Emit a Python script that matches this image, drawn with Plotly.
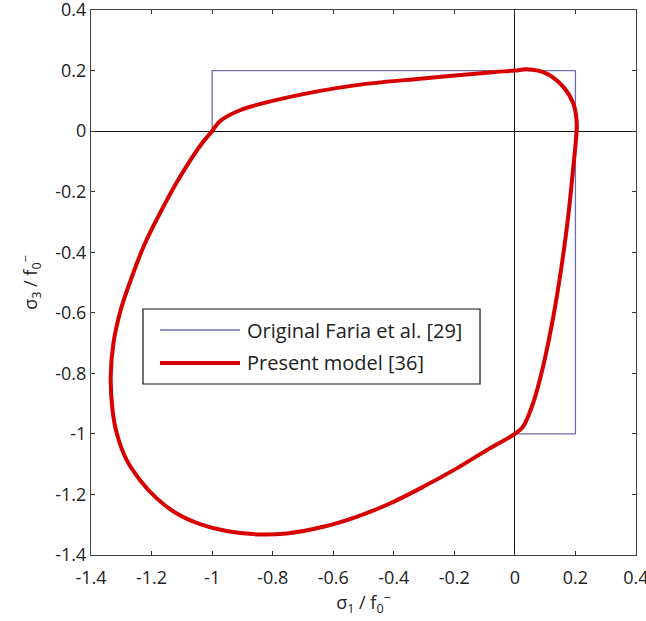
import plotly.graph_objects as go

# Original Faria et al. [29] envelope
faria_x = [-1.0, -1.0, 0.2, 0.2, 0.0]
faria_y = [0.0, 0.2, 0.2, -1.0, -1.0]

# Present model [36] envelope
model_x = [-1.0, -0.974, -0.908, -0.743, -0.523, -0.304, -0.083, 0.0, 0.039, 0.105,
           0.16, 0.193, 0.204, 0.204, 0.193, 0.176, 0.154, 0.127, 0.093, 0.060,
           0.027, 0.0, -0.083, -0.192, -0.303, -0.413, -0.523, -0.633, -0.754, -0.853,
           -0.952, -1.040, -1.117, -1.183, -1.238, -1.282, -1.315, -1.329, -1.335, -1.326,
           -1.302, -1.265, -1.222, -1.167, -1.106, -1.034, -1.0]
model_y = [0.0, 0.033, 0.069, 0.113, 0.152, 0.174, 0.194, 0.2, 0.204, 0.19,
           0.146, 0.091, 0.036, 0.0, -0.118, -0.283, -0.448, -0.613, -0.778, -0.899,
           -0.976, -1.0, -1.048, -1.114, -1.175, -1.230, -1.274, -1.307, -1.329, -1.332,
           -1.321, -1.298, -1.263, -1.213, -1.153, -1.087, -0.998, -0.921, -0.811, -0.701,
           -0.591, -0.481, -0.371, -0.261, -0.151, -0.041, 0.0]

tick_vals = [-1.4, -1.2, -1.0, -0.8, -0.6, -0.4, -0.2, 0.0, 0.2, 0.4]
tick_text = ["-1.4", "-1.2", "-1", "-0.8", "-0.6", "-0.4", "-0.2", "0", "0.2", "0.4"]

legend_names = ["Original Faria et al. [29]", "Present model [36]"]
blue = "rgb(108,108,170)"
red = "rgb(214,0,0)"
FONT = "Open Sans"

fig = go.Figure()
fig.add_trace(go.Scatter(x=faria_x, y=faria_y, mode="lines", name=legend_names[0],
                         line=dict(color=blue, width=1.3), showlegend=False))
fig.add_trace(go.Scatter(x=model_x, y=model_y, mode="lines", name=legend_names[1],
                         line=dict(color=red, width=4, shape="spline", smoothing=1.0),
                         showlegend=False))

axis_common = dict(
    tickvals=tick_vals, ticktext=tick_text, ticks="inside", ticklen=4,
    tickcolor="#333", showline=True, linecolor="#444", linewidth=1.2, mirror="ticks",
    showgrid=False, zeroline=True, zerolinecolor="#111", zerolinewidth=1,
    tickfont=dict(family=FONT, size=18, color="#222"), automargin=False,
    ticklabeloverflow="allow",
)

fig.update_xaxes(range=[-1.4001, 0.4001], ticklabelstandoff=6,
                 title=dict(text="σ<sub>1</sub> / f<sub>0</sub><sup>−</sup>",
                            font=dict(family=FONT, size=18, color="#222"), standoff=6),
                 **axis_common)
fig.update_yaxes(range=[-1.4001, 0.4001], ticklabelstandoff=0,
                 title=dict(text="σ<sub>3</sub> / f<sub>0</sub><sup>−</sup>",
                            font=dict(family=FONT, size=18, color="#222"), standoff=12),
                 **axis_common)

# custom legend box (paper coords)
fig.add_shape(type="rect", xref="paper", yref="paper", x0=0.0954, x1=0.7138, y0=0.3138, y1=0.4514,
              line=dict(color="#111", width=1.2), fillcolor="white", layer="above")
fig.add_shape(type="line", xref="paper", yref="paper", x0=0.1266, x1=0.2734, y0=0.4128, y1=0.4128,
              line=dict(color=blue, width=1.5), layer="above")
fig.add_shape(type="line", xref="paper", yref="paper", x0=0.1266, x1=0.2734, y0=0.3523, y1=0.3523,
              line=dict(color=red, width=4), layer="above")
for name, yy in zip(legend_names, [0.4128, 0.3523]):
    fig.add_annotation(xref="paper", yref="paper", x=0.2881, y=yy, text=name, showarrow=False,
                       xanchor="left", yanchor="middle", xshift=-3,
                       font=dict(family=FONT, size=20, color="#222"))

fig.update_layout(width=646, height=621, margin=dict(l=91, r=10, t=10, b=66),
                  plot_bgcolor="white", paper_bgcolor="white", showlegend=False)

# remove the browser's default 8px body margin so the figure fills the window
fig.write_html("out.html", config={"displayModeBar": False},
               post_script="document.body.style.margin='0';document.body.style.overflow='hidden';")
